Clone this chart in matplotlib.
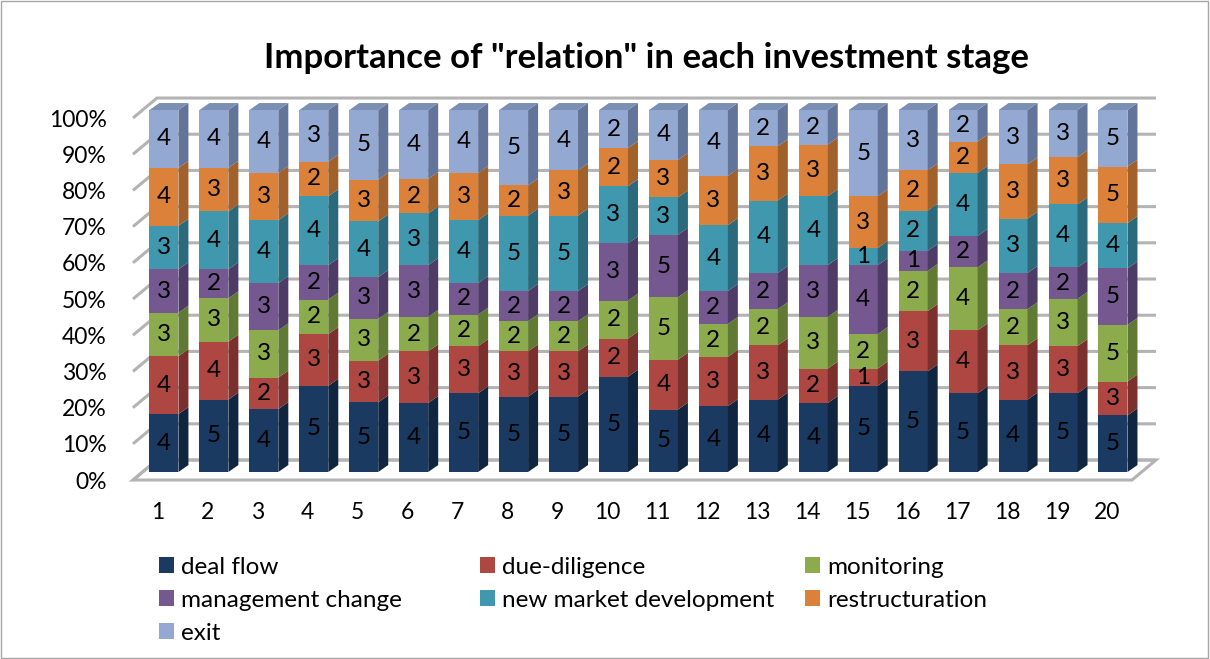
import numpy as np
import matplotlib.pyplot as plt
from matplotlib.patches import Polygon, Rectangle

plt.rcParams['font.family'] = ['Lato', 'DejaVu Sans']

stages = list(range(1, 21))
deal_flow = [4, 5, 4, 5, 5, 4, 5, 5, 5, 5, 5, 4, 4, 4, 5, 5, 5, 4, 5, 5]
due_diligence = [4, 4, 2, 3, 3, 3, 3, 3, 3, 2, 4, 3, 3, 2, 1, 3, 4, 3, 3, 3]
monitoring = [3, 3, 3, 2, 3, 2, 2, 2, 2, 2, 5, 2, 2, 3, 2, 2, 4, 2, 3, 5]
management_change = [3, 2, 3, 2, 3, 3, 2, 2, 2, 3, 5, 2, 2, 3, 4, 1, 2, 2, 2, 5]
new_market = [3, 4, 4, 4, 4, 3, 4, 5, 5, 3, 3, 4, 4, 4, 1, 2, 4, 3, 4, 4]
restructuration = [4, 3, 3, 2, 3, 2, 3, 2, 3, 2, 3, 3, 3, 3, 3, 2, 2, 3, 3, 5]
exit_stage = [4, 4, 4, 3, 5, 4, 4, 5, 4, 2, 4, 4, 2, 2, 5, 3, 2, 3, 3, 5]

series = ['deal flow', 'due-diligence', 'monitoring', 'management change',
          'new market development', 'restructuration', 'exit']
values = [deal_flow, due_diligence, monitoring, management_change,
          new_market, restructuration, exit_stage]

front_colors = ['#1a3a62', '#ae4641', '#8cab4c', '#74588f', '#3f98ae', '#db8139', '#94a9d2']
side_colors = ['#102640', '#7c302d', '#617a33', '#4f3c66', '#2a6a7c', '#a2602a', '#63749a']
top_color = '#7b8fb5'
grid_color = '#b3b3b3'

fig = plt.figure(figsize=(12.1, 6.59), dpi=100)
ax = fig.add_axes([0.1099, 0.2716, 0.8256, 0.5493])
ax.set_xlim(0.5, 20.5)
ax.set_ylim(0, 1)
for s in ax.spines.values():
    s.set_visible(False)
ax.patch.set_visible(False)

# pixel -> data conversion for the fake depth
pxx = ax.bbox.width / 20.0
pxy = ax.bbox.height / 1.0


def depth(dx, dy):
    return dx / pxx, dy / pxy


bx0, by0 = depth(6, 8)      # bar front plane
bdx, bdy = depth(10, 7)     # bar thickness
wx, wy = depth(24, 20)      # back wall

# floor
floor = Polygon([(0.5, 0), (20.5, 0), (20.5 + wx, wy), (0.5 + wx, wy)],
                closed=True, facecolor='white', edgecolor=grid_color, lw=2.2,
                clip_on=False, zorder=1)
ax.add_patch(floor)

# gridlines on the back wall with the left diagonals
ticks = np.arange(0, 1.01, 0.1)
for t in ticks:
    ax.plot([0.5, 0.5 + wx, 20.5 + wx], [t, t + wy, t + wy], color=grid_color,
            lw=2.2, clip_on=False, zorder=1, solid_capstyle='butt')

w = 0.58
data = np.array(values, dtype=float)
shares = data / data.sum(axis=0)
bottoms = np.vstack([np.zeros(len(stages)), np.cumsum(shares, axis=0)[:-1]])

for k in range(len(series)):
    for i, x in enumerate(stages):
        b = bottoms[k, i]
        h = shares[k, i]
        left = x - w / 2 + bx0
        right = x + w / 2 + bx0
        ax.add_patch(Rectangle((left, b + by0), w, h, facecolor=front_colors[k],
                               edgecolor='none', clip_on=False, zorder=3))
        ax.add_patch(Polygon([(right, b + by0), (right, b + h + by0),
                              (right + bdx, b + h + by0 + bdy), (right + bdx, b + by0 + bdy)],
                             closed=True, facecolor=side_colors[k], edgecolor='none',
                             clip_on=False, zorder=3))
        ax.text(x + bx0, b + h / 2 + by0, str(values[k][i]), ha='center', va='center',
                fontsize=17.5, color='black', zorder=4)

# top faces of the stacks
for x in stages:
    left = x - w / 2 + bx0
    right = x + w / 2 + bx0
    top = 1 + by0
    ax.add_patch(Polygon([(left, top), (right, top), (right + bdx, top + bdy),
                          (left + bdx, top + bdy)], closed=True, facecolor=top_color,
                         edgecolor='none', clip_on=False, zorder=3))

ax.set_yticks(ticks)
ax.set_yticklabels([f'{int(round(t * 100))}%' for t in ticks])
ax.set_xticks(stages)
ax.set_xticklabels([str(s) for s in stages])
ax.tick_params(axis='y', length=0, pad=19, labelsize=16.5)
ax.tick_params(axis='x', length=0, pad=16, labelsize=16.5)

fig.text(0.534, 0.912, 'Importance of "relation" in each investment stage',
         ha='center', va='center', fontsize=25, fontweight='bold')

# legend laid out in three fixed-width columns
handles = [Rectangle((0, 0), 1, 1, facecolor=c, edgecolor='none') for c in front_colors]
columns = [[0, 3, 6], [1, 4], [2, 5]]
col_x = [0.1315, 0.3965, 0.665]
for cols, cx in zip(columns, col_x):
    fig.legend([handles[j] for j in cols], [series[j] for j in cols],
               loc='upper left', bbox_to_anchor=(cx, 0.1555), frameon=False,
               fontsize=17.5, handlelength=0.62, handleheight=0.62,
               handletextpad=0.3, labelspacing=0.5, borderpad=0, borderaxespad=0)

fig.add_artist(Rectangle((0.001, 0.001), 0.997, 0.997, transform=fig.transFigure,
                         facecolor='none', edgecolor='#a6a6a6', lw=1))

fig.savefig('out.png', dpi=100)
